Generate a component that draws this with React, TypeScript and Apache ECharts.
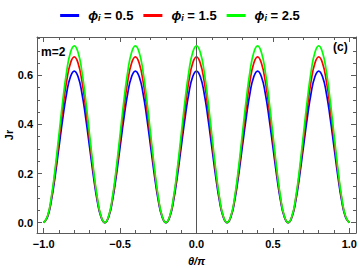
import React, { useEffect, useRef } from "react";
import * as echarts from "echarts";

const xValues = [
  -1.0, -0.975, -0.95, -0.925, -0.9, -0.875, -0.85, -0.825, -0.8, -0.775, -0.75, -0.725, -0.7, -0.675, -0.65, -0.625,
  -0.6, -0.575, -0.55, -0.525, -0.5, -0.475, -0.45, -0.425, -0.4, -0.375, -0.35, -0.325, -0.3, -0.275, -0.25, -0.225,
  -0.2, -0.175, -0.15, -0.125, -0.1, -0.075, -0.05, -0.025, 0.0, 0.025, 0.05, 0.075, 0.1, 0.125, 0.15, 0.175,
  0.2, 0.225, 0.25, 0.275, 0.3, 0.325, 0.35, 0.375, 0.4, 0.425, 0.45, 0.475, 0.5, 0.525, 0.55, 0.575,
  0.6, 0.625, 0.65, 0.675, 0.7, 0.725, 0.75, 0.775, 0.8, 0.825, 0.85, 0.875, 0.9, 0.925, 0.95, 0.975,
  1.0,
];

const phi05 = [
  0.0, 0.023, 0.09, 0.191, 0.309, 0.426, 0.527, 0.594, 0.617, 0.594, 0.527, 0.426, 0.309, 0.191, 0.09, 0.023,
  0.0, 0.023, 0.09, 0.191, 0.309, 0.426, 0.527, 0.594, 0.617, 0.594, 0.527, 0.426, 0.309, 0.191, 0.09, 0.023,
  0.0, 0.023, 0.09, 0.191, 0.309, 0.426, 0.527, 0.594, 0.617, 0.594, 0.527, 0.426, 0.309, 0.191, 0.09, 0.023,
  0.0, 0.023, 0.09, 0.191, 0.309, 0.426, 0.527, 0.594, 0.617, 0.594, 0.527, 0.426, 0.309, 0.191, 0.09, 0.023,
  0.0, 0.023, 0.09, 0.191, 0.309, 0.426, 0.527, 0.594, 0.617, 0.594, 0.527, 0.426, 0.309, 0.191, 0.09, 0.023,
  0.0,
];

const phi15 = [
  0.0, 0.026, 0.099, 0.209, 0.338, 0.466, 0.576, 0.649, 0.675, 0.649, 0.576, 0.466, 0.338, 0.209, 0.099, 0.026,
  0.0, 0.026, 0.099, 0.209, 0.338, 0.466, 0.576, 0.649, 0.675, 0.649, 0.576, 0.466, 0.338, 0.209, 0.099, 0.026,
  0.0, 0.026, 0.099, 0.209, 0.338, 0.466, 0.576, 0.649, 0.675, 0.649, 0.576, 0.466, 0.338, 0.209, 0.099, 0.026,
  0.0, 0.026, 0.099, 0.209, 0.338, 0.466, 0.576, 0.649, 0.675, 0.649, 0.576, 0.466, 0.338, 0.209, 0.099, 0.026,
  0.0, 0.026, 0.099, 0.209, 0.338, 0.466, 0.576, 0.649, 0.675, 0.649, 0.576, 0.466, 0.338, 0.209, 0.099, 0.026,
  0.0,
];

const phi25 = [
  0.0, 0.027, 0.105, 0.222, 0.36, 0.498, 0.615, 0.693, 0.72, 0.693, 0.615, 0.498, 0.36, 0.222, 0.105, 0.027,
  0.0, 0.027, 0.105, 0.222, 0.36, 0.498, 0.615, 0.693, 0.72, 0.693, 0.615, 0.498, 0.36, 0.222, 0.105, 0.027,
  0.0, 0.027, 0.105, 0.222, 0.36, 0.498, 0.615, 0.693, 0.72, 0.693, 0.615, 0.498, 0.36, 0.222, 0.105, 0.027,
  0.0, 0.027, 0.105, 0.222, 0.36, 0.498, 0.615, 0.693, 0.72, 0.693, 0.615, 0.498, 0.36, 0.222, 0.105, 0.027,
  0.0, 0.027, 0.105, 0.222, 0.36, 0.498, 0.615, 0.693, 0.72, 0.693, 0.615, 0.498, 0.36, 0.222, 0.105, 0.027,
  0.0,
];

const seriesNames = ["0.5", "1.5", "2.5"];
const seriesColors = ["#0000ff", "#ff0000", "#00ff00"];

const xMajorTicks = [-1.0, -0.5, 0.0, 0.5, 1.0];
const xMinorTicks = [-0.9, -0.8, -0.7, -0.6, -0.4, -0.3, -0.2, -0.1, 0.1, 0.2, 0.3, 0.4, 0.6, 0.7, 0.8, 0.9];
const yMajorTicks = [0.0, 0.2, 0.4, 0.6];
const yMinorTicks = [0.05, 0.1, 0.15, 0.25, 0.3, 0.35, 0.45, 0.5, 0.55, 0.65, 0.7, 0.75];

const X_MIN = -1.044;
const X_MAX = 1.044;
const Y_MIN = -0.042;
const Y_MAX = 0.756;

const FONT = "'Liberation Sans', Arial, sans-serif";
const FRAME = "#5a5a5a";

export default function App() {
  const ref = useRef<HTMLDivElement>(null);

  useEffect(() => {
    if (!ref.current) return;
    const chart = echarts.init(ref.current, undefined, { renderer: "svg" });

    const fmt = (v: number) => v.toFixed(1).replace("-", "\u2212");

    const mkX = (pos: "bottom" | "top", ticks: number[], len: number, labels: boolean, line: boolean, name?: string) => ({
      type: "value",
      position: pos,
      offset: 0,
      min: X_MIN,
      max: X_MAX,
      name: name,
      nameLocation: "middle",
      nameGap: 22,
      nameMoveOverlap: false,
      nameTextStyle: { fontFamily: FONT, fontSize: 11, fontWeight: "bold", fontStyle: "italic", color: "#000" },
      axisLine: { show: line, onZero: false, lineStyle: { color: FRAME, width: 1 } },
      axisTick: { show: true, inside: true, length: len, customValues: ticks, lineStyle: { color: FRAME, width: 1 } },
      axisLabel: {
        show: labels,
        customValues: ticks,
        margin: 5,
        formatter: fmt,
        fontFamily: FONT,
        fontSize: 11,
        fontWeight: "bold",
        color: "#000",
      },
      minorTick: { show: false },
      splitLine: { show: false },
    });

    const mkY = (pos: "left" | "right", ticks: number[], len: number, labels: boolean, line: boolean, name?: string) => ({
      type: "value",
      position: pos,
      offset: 0,
      min: Y_MIN,
      max: Y_MAX,
      name: name,
      nameLocation: "middle",
      nameRotate: 90,
      nameGap: 23,
      nameMoveOverlap: false,
      nameTextStyle: { fontFamily: FONT, fontSize: 11, fontWeight: "bold", color: "#000" },
      axisLine: { show: line, onZero: false, lineStyle: { color: FRAME, width: 1 } },
      axisTick: { show: true, inside: true, length: len, customValues: ticks, lineStyle: { color: FRAME, width: 1 } },
      axisLabel: {
        show: labels,
        customValues: ticks,
        margin: 4,
        formatter: fmt,
        fontFamily: FONT,
        fontSize: 11,
        fontWeight: "bold",
        color: "#000",
      },
      minorTick: { show: false },
      splitLine: { show: false },
    });

    const data = [phi05, phi15, phi25];

    const option: any = {
      animation: false,
      backgroundColor: "#ffffff",
      grid: { left: 37, right: 4, top: 37, bottom: 35, containLabel: false, outerBoundsMode: "none" },
      legend: {
        top: 4,
        left: "center",
        icon: "rect",
        itemWidth: 19,
        itemHeight: 3,
        itemGap: 10,
        data: seriesNames,
        formatter: (n: string) => `{p|\u03d5}{s|i}{t| = ${n}}`,
        textStyle: {
          fontFamily: FONT,
          fontSize: 13,
          fontWeight: "bold",
          color: "#000",
          rich: {
            p: { fontFamily: FONT, fontSize: 13, fontWeight: "bold", fontStyle: "italic", color: "#000", padding: [0, 0, 0, 4] },
            s: { fontFamily: FONT, fontSize: 9, fontWeight: "bold", fontStyle: "italic", color: "#000", padding: [5, 0, 0, 0] },
            t: { fontFamily: FONT, fontSize: 13, fontWeight: "bold", color: "#000" },
          },
        },
      },
      // order matters: a repeated position is moved to the opposite side by ECharts
      xAxis: [
        mkX("bottom", xMajorTicks, 5, true, true, "\u03b8/\u03c0"),
        mkX("top", xMajorTicks, 5, false, true),
        mkX("top", xMinorTicks, 3, false, false),
        mkX("bottom", xMinorTicks, 3, false, false),
      ],
      yAxis: [
        mkY("left", yMajorTicks, 5, true, true, "Jr"),
        mkY("right", yMajorTicks, 5, false, true),
        mkY("right", yMinorTicks, 3, false, false),
        mkY("left", yMinorTicks, 3, false, false),
      ],
      graphic: [
        { type: "text", left: 41, top: 46, style: { text: "m=2", fontFamily: FONT, fontSize: 12, fontWeight: "bold", fill: "#000" } },
        { type: "text", left: 333, top: 41, style: { text: "(c)", fontFamily: FONT, fontSize: 12, fontWeight: "bold", fill: "#000" } },
      ],
      series: seriesNames.map((name, k) => ({
        name,
        type: "line",
        xAxisIndex: 0,
        yAxisIndex: 0,
        showSymbol: false,
        symbol: "none",
        smooth: true,
        color: seriesColors[k],
        lineStyle: { color: seriesColors[k], width: 1.7 },
        data: xValues.map((x, i) => [x, data[k][i]]),
        z: 3 + k,
        markLine:
          k === 0
            ? {
                silent: true,
                symbol: ["none", "none"],
                label: { show: false },
                lineStyle: { color: "#555555", width: 1, type: "solid" },
                data: [{ xAxis: 0 }],
              }
            : undefined,
      })),
    };

    chart.setOption(option);
    return () => chart.dispose();
  }, []);

  return <div ref={ref} style={{ position: "absolute", left: 0, top: 0, width: 360, height: 268 }} />;
}
